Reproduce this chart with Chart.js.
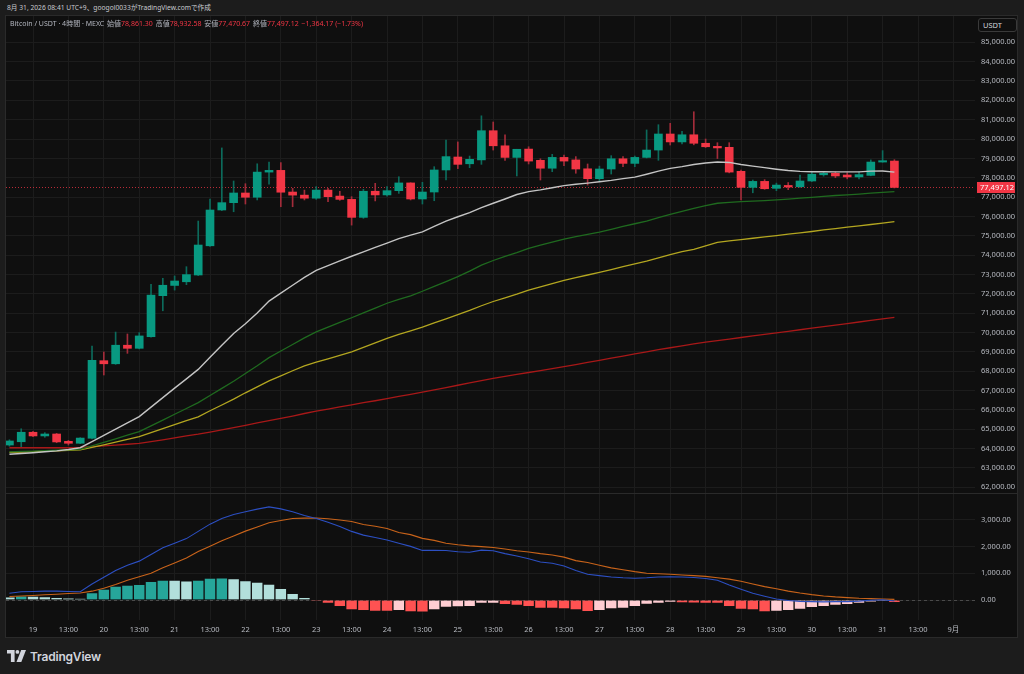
<!DOCTYPE html>
<html>
<head>
<meta charset="utf-8">
<title>BTC/USDT 4時間</title>
<script src="https://cdn.jsdelivr.net/npm/chart.js@4.4.1/dist/chart.umd.min.js"></script>
<style>
  html, body { margin: 0; padding: 0; }
  body {
    width: 1024px; height: 674px; overflow: hidden; position: relative;
    background: #1c1c1c; color: #d1d4dc;
    font-family: 'Noto Sans', 'Noto Sans CJK JP', sans-serif;
  }
  #stamp { position: absolute; left: 7px; top: 3px; font-size: 6.7px; line-height: 10px; color: #c8cad0; white-space: nowrap; }
  #frame { position: absolute; left: 6px; top: 16px; width: 1011px; height: 621px; background: #0f0f0f; outline: 1px solid #2a2a2a; }
  #pricePane { position: absolute; left: 0; top: 0; width: 1011px; height: 477px; }
  #sep { position: absolute; left: 0; top: 477px; width: 1011px; height: 1px; background: #2a2a2a; }
  #macdPane { position: absolute; left: 0; top: 478px; width: 1011px; height: 143px; }
  #legend { position: absolute; left: 4px; top: 3px; font-size: 7px; line-height: 10px; color: #b2b5be; white-space: nowrap; }
  #legend .v { color: #f23645; }
  #legend .k { margin-left: 1px; }
  #unit {
    position: absolute; left: 972px; top: 2px; width: 33px; height: 12px;
    border: 1px solid #3a3a3a; border-radius: 3px; background: #0f0f0f;
    font-size: 7.5px; line-height: 12px; padding-left: 4px; color: #d1d4dc;
  }
  #brand { position: absolute; left: 7px; top: 649px; height: 14px; display: flex; align-items: center; }
  #brand span { margin-left: 4px; font-family: Inter, 'Noto Sans', sans-serif; font-weight: 600; font-size: 12px; color: #d1d4dc; letter-spacing: -0.2px; }
</style>
</head>
<body>
<div id="stamp">8月 31, 2026 08:41 UTC+9、googol0033がTradingView.comで作成</div>
<div id="frame">
  <div id="pricePane"><canvas id="priceCanvas"></canvas></div>
  <div id="sep"></div>
  <div id="macdPane"><canvas id="macdCanvas"></canvas></div>
  <div id="legend">Bitcoin / USDT · 4時間 · MEXC
    <span class="k">始値</span><span class="v">78,861.30</span>
    <span class="k">高値</span><span class="v">78,932.58</span>
    <span class="k">安値</span><span class="v">77,470.67</span>
    <span class="k">終値</span><span class="v">77,497.12</span>
    <span class="v k">−1,364.17 (−1.73%)</span>
  </div>
  <div id="unit">USDT</div>
</div>
<div id="brand">
  <svg width="19" height="12" viewBox="0 0 19 12">
    <path d="M0 0h7.6v12H3.9V3.6H0z" fill="#d1d4dc"/>
    <circle cx="10.4" cy="1.9" r="1.9" fill="#d1d4dc"/>
    <path d="M14.2 0H19l-4.7 12H9.5z" fill="#d1d4dc"/>
  </svg>
  <span>TradingView</span>
</div>

<script>
// 4時間足 18日 17:00 〜 31日 05:00 (UTC+9)
const opens = [64180, 64350, 64840, 64650, 64750, 64370, 64270, 64530, 68540, 68380,
  69340, 69180, 69780, 71900, 72430, 72620, 72970, 74480, 76330, 76710,
  77210, 76990, 78290, 78380, 77260, 77100, 76940, 77360, 77050, 76880,
  75950, 77300, 77110, 77330, 77730, 76900, 77260, 78400, 79070, 78720,
  78920, 80430, 79650, 79050, 79480, 78900, 78490, 79050, 78920, 78460,
  77950, 78450, 78980, 78740, 79050, 79430, 80260, 79850, 80220, 79780,
  79620, 79570, 78330, 77500, 77810, 77450, 77600, 77530, 77830, 78150,
  78230, 78140, 78040, 78120, 78810, 78861.30];
const highs = [64450, 65020, 64890, 64820, 64780, 64420, 64560, 69300, 68990, 70020,
  69920, 69990, 72490, 72800, 72920, 73400, 75760, 76900, 79540, 77830,
  77690, 78720, 78810, 78780, 77450, 77360, 77540, 77450, 77300, 77020,
  77400, 77710, 77540, 78050, 77740, 77760, 78570, 79950, 79850, 79120,
  81200, 80880, 80220, 79470, 79600, 78980, 79210, 79170, 79090, 78710,
  78600, 79140, 79090, 79120, 80470, 80740, 80810, 80400, 81410, 80000,
  79810, 79810, 78400, 77880, 77900, 77720, 77750, 78140, 78330, 78330,
  78300, 78260, 78300, 78920, 79400, 78932.58];
const lows = [64120, 64060, 64610, 64580, 64300, 64180, 64250, 64500, 67800, 68350,
  68920, 69150, 69750, 71120, 72190, 72470, 72940, 74450, 76300, 76240,
  76640, 76850, 77670, 76500, 76500, 76850, 76880, 76760, 76830, 75550,
  75900, 76800, 77050, 77190, 76850, 76640, 76810, 77880, 78470, 78520,
  78690, 79430, 78900, 78090, 78710, 77880, 78310, 78620, 78230, 77620,
  77830, 78190, 78570, 78570, 79020, 78900, 79690, 79750, 79700, 79560,
  78990, 78250, 76850, 77220, 77400, 77330, 77380, 77500, 77800, 78080,
  78000, 77940, 77940, 78100, 78800, 77470.67];
const closes = [64390, 64840, 64650, 64750, 64340, 64270, 64540, 68560, 68380, 69340,
  69180, 69820, 71930, 72440, 72660, 72990, 74520, 76330, 76710, 77210,
  76990, 78290, 78380, 77250, 77100, 76940, 77360, 77020, 76880, 75950,
  77300, 77110, 77330, 77730, 76900, 77260, 78400, 79090, 78690, 78950,
  80430, 79650, 79050, 79470, 78860, 78490, 79050, 78860, 78450, 77950,
  78450, 78980, 78740, 79050, 79430, 80260, 79850, 80220, 79780, 79600,
  79540, 78290, 77500, 77810, 77430, 77620, 77520, 77830, 78180, 78230,
  78090, 78040, 78160, 78810, 78880, 77497.12];

// 移動平均線
const maWhite = [63700, 63740, 63780, 63830, 63880, 63950, 64040, 64360, 64680, 65000,
  65320, 65650, 66140, 66630, 67120, 67600, 68090, 68720, 69340, 69950,
  70450, 71010, 71620, 72030, 72440, 72850, 73210, 73450, 73700, 73940,
  74170, 74400, 74620, 74850, 75030, 75200, 75480, 75760, 75980, 76190,
  76450, 76680, 76900, 77130, 77280, 77370, 77480, 77590, 77660, 77720,
  77790, 77860, 77950, 78030, 78180, 78340, 78480, 78570, 78680, 78760,
  78810, 78790, 78680, 78600, 78520, 78440, 78370, 78330, 78310, 78310,
  78300, 78300, 78300, 78340, 78350, 78290];
const maGreen = [63830, 63850, 63870, 63890, 63910, 63935, 63960, 64140, 64320, 64500,
  64690, 64870, 65170, 65470, 65770, 66070, 66370, 66740, 67110, 67480,
  67880, 68280, 68700, 69040, 69380, 69720, 70030, 70280, 70520, 70760,
  71010, 71260, 71510, 71710, 71890, 72130, 72380, 72630, 72890, 73170,
  73480, 73720, 73930, 74130, 74350, 74510, 74670, 74830, 74950, 75070,
  75190, 75330, 75480, 75620, 75760, 75930, 76100, 76260, 76420, 76560,
  76680, 76730, 76760, 76790, 76820, 76850, 76890, 76940, 76980, 77030,
  77080, 77110, 77150, 77200, 77240, 77280];
const maYellow = [63800, 63820, 63840, 63860, 63880, 63900, 63930, 64060, 64190, 64330,
  64470, 64610, 64820, 65030, 65240, 65440, 65640, 65950, 66250, 66550,
  66880, 67190, 67500, 67760, 68020, 68270, 68460, 68640, 68820, 69000,
  69230, 69460, 69690, 69900, 70080, 70270, 70490, 70700, 70920, 71140,
  71380, 71600, 71790, 71980, 72190, 72360, 72530, 72690, 72830, 72970,
  73110, 73250, 73400, 73550, 73690, 73860, 74020, 74180, 74300, 74480,
  74660, 74730, 74800, 74870, 74940, 75010, 75080, 75150, 75220, 75300,
  75370, 75440, 75510, 75580, 75650, 75725];
const maRed = [64040, 64040, 64040, 64040, 64040, 64040, 64060, 64100, 64140, 64180,
  64220, 64270, 64360, 64450, 64550, 64650, 64740, 64850, 64960, 65080,
  65200, 65320, 65440, 65560, 65680, 65810, 65930, 66040, 66150, 66260,
  66370, 66470, 66580, 66690, 66800, 66910, 67030, 67150, 67270, 67390,
  67510, 67630, 67730, 67830, 67930, 68030, 68130, 68230, 68340, 68450,
  68560, 68670, 68780, 68890, 69000, 69110, 69210, 69310, 69410, 69500,
  69580, 69660, 69740, 69820, 69900, 69980, 70060, 70140, 70220, 70300,
  70380, 70460, 70540, 70620, 70700, 70780];

// MACD
const macdLine = [250, 310, 320, 330, 330, 320, 310, 600, 850, 1100,
  1300, 1450, 1700, 1950, 2120, 2290, 2560, 2830, 3040, 3190,
  3290, 3390, 3475, 3400, 3290, 3150, 3040, 2900, 2740, 2560,
  2420, 2330, 2240, 2120, 2000, 1850, 1850, 1845, 1800, 1780,
  1860, 1840, 1730, 1640, 1540, 1420, 1370, 1270, 1100, 960,
  910, 860, 830, 810, 830, 860, 870, 860, 840, 800,
  740, 560, 400, 250, 140, 40, -20, -50, -60, -70,
  -60, -60, -40, -10, 10, -40];
const signalLine = [130, 150, 170, 195, 215, 240, 260, 330, 440, 580,
  740, 865, 1000, 1200, 1380, 1570, 1810, 2010, 2210, 2390,
  2570, 2720, 2880, 2965, 3040, 3055, 3060, 3030, 2985, 2930,
  2820, 2750, 2665, 2520, 2440, 2300, 2225, 2120, 2060, 2020,
  1990, 1960, 1900, 1840, 1790, 1730, 1680, 1600, 1470, 1400,
  1300, 1200, 1130, 1060, 1000, 980, 960, 935, 910, 880,
  830, 780, 700, 600, 500, 420, 330, 260, 200, 150,
  115, 90, 65, 50, 35, 25];
const histValues = [120, 160, 150, 125, 100, 75, 50, 274, 410, 522,
  560, 585, 697, 746, 740, 720, 746, 821, 825, 796,
  721, 672, 597, 435, 249, 100, -15, -124, -249, -373,
  -398, -423, -425, -398, -448, -450, -373, -274, -255, -249,
  -130, -124, -174, -199, -249, -311, -315, -336, -373, -435,
  -398, -336, -311, -249, -162, -124, -87, -112, -115, -124,
  -130, -249, -348, -373, -440, -430, -398, -348, -286, -249,
  -199, -174, -124, -62, -25, -100];

// 目盛り
const timeLabels = ['19', '13:00', '20', '13:00', '21', '13:00', '22', '13:00', '23', '13:00',
  '24', '13:00', '25', '13:00', '26', '13:00', '27', '13:00', '28', '13:00',
  '29', '13:00', '30', '13:00', '31', '13:00', '9月'];
const priceTicks = [62000, 63000, 64000, 65000, 66000, 67000, 68000, 69000, 70000, 71000,
  72000, 73000, 74000, 75000, 76000, 77000, 78000, 79000, 80000, 81000,
  82000, 83000, 84000, 85000];
const macdTicks = [0, 1000, 2000, 3000];

// 19日 01:00 のバーが 2 本目、ラベルは 12 時間 (3 本) ごと
const tickBars = timeLabels.map((_, k) => 2 + 3 * k);

const UP = '#089981', DOWN = '#f23645';
const gridColor = '#1c1c1c';
const labelColor = '#b8bbc2';
const fontFamily = "'Noto Sans', 'Noto Sans CJK JP', sans-serif";

Chart.defaults.font.family = fontFamily;
Chart.defaults.font.size = 7.5;
Chart.defaults.color = labelColor;

function fmt(v) {
  return v.toLocaleString('en-US', { minimumFractionDigits: 2, maximumFractionDigits: 2 });
}

const bodyColors = opens.map((o, i) => closes[i] >= o ? UP : DOWN);
const wickColors = opens.map((o, i) => closes[i] >= o ? '#0c6b5c' : '#a32c3a');
const histColors = histValues.map((v, i) => {
  const prev = i > 0 ? histValues[i - 1] : v + 1;
  if (v >= 0) return v > prev ? '#26a69a' : '#b2dfdb';
  return v < prev ? '#ff5252' : '#ffcdd2';
});

const xView = { min: -0.29, max: 81.83 };

function xScale(showLabels) {
  return {
    type: 'linear',
    min: xView.min,
    max: xView.max,
    offset: false,
    afterBuildTicks: s => { s.ticks = tickBars.map(v => ({ value: v })); },
    afterFit: s => {
      s.height = showLabels ? 17 : 0;
      s.paddingLeft = 0; s.paddingRight = 0;
    },
    grid: { color: gridColor, drawTicks: false, offset: false },
    border: { display: false },
    ticks: {
      display: showLabels,
      autoSkip: false,
      maxRotation: 0,
      padding: 5,
      color: labelColor,
      callback: (v, idx) => timeLabels[idx]
    }
  };
}

function yScale(min, max, ticks) {
  return {
    type: 'linear',
    position: 'right',
    min: min,
    max: max,
    afterBuildTicks: s => { s.ticks = ticks.map(v => ({ value: v })); },
    afterFit: s => { s.width = 42; s.paddingTop = 0; s.paddingBottom = 0; },
    grid: { color: gridColor, drawTicks: false },
    border: { display: false },
    ticks: { padding: 6, color: labelColor, callback: v => fmt(v) }
  };
}

function line(values, color, width) {
  return {
    type: 'line',
    data: values.map((v, i) => ({ x: i, y: v })),
    borderColor: color,
    borderWidth: width,
    pointRadius: 0,
    tension: 0,
    order: 0
  };
}

const lastPrice = {
  id: 'lastPrice',
  beforeDatasetsDraw(chart) {
    const { ctx, chartArea, scales } = chart;
    const py = Math.round(scales.y.getPixelForValue(closes[closes.length - 1])) + 0.5;
    ctx.save();
    ctx.strokeStyle = 'rgba(242, 54, 69, 0.75)';
    ctx.lineWidth = 1;
    ctx.setLineDash([1, 2]);
    ctx.beginPath();
    ctx.moveTo(chartArea.left, py);
    ctx.lineTo(chartArea.right, py);
    ctx.stroke();
    ctx.restore();
  },
  afterDraw(chart) {
    const { ctx, chartArea, scales } = chart;
    const last = closes[closes.length - 1];
    const py = Math.round(scales.y.getPixelForValue(last));
    ctx.save();
    ctx.fillStyle = DOWN;
    ctx.fillRect(chartArea.right + 2, py - 5, 38, 11);
    ctx.fillStyle = '#ffffff';
    ctx.font = '7.5px ' + fontFamily;
    ctx.textBaseline = 'middle';
    ctx.fillText(fmt(last), chartArea.right + 5, py + 0.5);
    ctx.restore();
  }
};

const zeroLine = {
  id: 'zeroLine',
  beforeDatasetsDraw(chart) {
    const { ctx, chartArea, scales } = chart;
    const py = Math.round(scales.y.getPixelForValue(0)) + 0.5;
    ctx.save();
    ctx.strokeStyle = '#4a4a4a';
    ctx.lineWidth = 1;
    ctx.setLineDash([3, 3]);
    ctx.beginPath();
    ctx.moveTo(chartArea.left, py);
    ctx.lineTo(chartArea.right, py);
    ctx.stroke();
    ctx.restore();
  }
};

const common = {
  responsive: true,
  maintainAspectRatio: false,
  animation: false,
  events: [],
  layout: { padding: 0 },
  plugins: { legend: { display: false }, tooltip: { enabled: false } }
};

new Chart(document.getElementById('priceCanvas'), {
  type: 'bar',
  data: {
    datasets: [
      line(maWhite, '#c4c4c4', 1.4),
      line(maGreen, '#1f6a1f', 1.3),
      line(maYellow, '#b3a620', 1.3),
      line(maRed, '#a81818', 1.3),
      {
        data: opens.map((o, i) => ({ x: i, y: [o, closes[i]] })),
        backgroundColor: bodyColors,
        barThickness: 8,
        grouped: false,
        order: 1
      },
      {
        data: lows.map((l, i) => ({ x: i, y: [l, highs[i]] })),
        backgroundColor: wickColors,
        barThickness: 1,
        grouped: false,
        order: 2
      }
    ]
  },
  options: Object.assign({}, common, {
    scales: {
      x: xScale(false),
      y: yScale(61700, 86360, priceTicks)
    }
  }),
  plugins: [lastPrice]
});

new Chart(document.getElementById('macdCanvas'), {
  type: 'bar',
  data: {
    datasets: [
      line(macdLine, '#2c4fc2', 1.1),
      line(signalLine, '#c8631a', 1.1),
      {
        data: histValues.map((v, i) => ({ x: i, y: v })),
        backgroundColor: histColors,
        borderColor: 'rgba(20, 20, 20, 0.55)',
        borderWidth: 1,
        barThickness: 11.8,
        grouped: false,
        order: 1
      }
    ]
  },
  options: Object.assign({}, common, {
    scales: {
      x: xScale(true),
      y: yScale(-746, 3955, macdTicks)
    }
  }),
  plugins: [zeroLine]
});
</script>
</body>
</html>
